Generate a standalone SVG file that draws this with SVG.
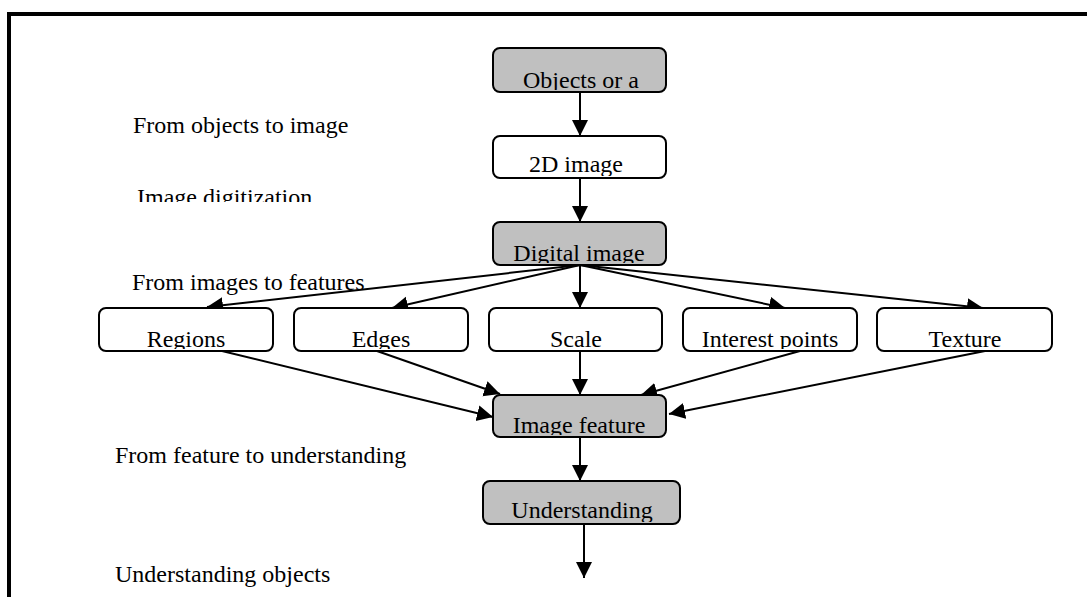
<svg xmlns="http://www.w3.org/2000/svg" width="1087" height="597" viewBox="0 0 1087 597">
  <style>
    .box { stroke: #000; stroke-width: 2; }
    .grey { fill: #c0c0c0; }
    .white { fill: #fff; }
    .lbl { font-family: "Liberation Serif", "Times New Roman", serif; font-size: 24px; fill: #000; }
    .mid { text-anchor: middle; }
    .edge { stroke: #000; stroke-width: 2; fill: none; marker-end: url(#head); }
  </style>
  <defs>
    <marker id="head" markerUnits="userSpaceOnUse" markerWidth="18" markerHeight="18" refX="16" refY="8" orient="auto">
      <path d="M0,0 L16,8 L0,16 z" fill="#000"/>
    </marker>
    <clipPath id="c-objects"><rect x="493" y="48" width="173" height="42"/></clipPath>
    <clipPath id="c-2d"><rect x="493" y="136" width="173" height="40"/></clipPath>
    <clipPath id="c-digital"><rect x="493" y="222" width="173" height="41"/></clipPath>
    <clipPath id="c-regions"><rect x="99" y="308" width="174" height="41"/></clipPath>
    <clipPath id="c-edges"><rect x="294" y="308" width="174" height="41"/></clipPath>
    <clipPath id="c-scale"><rect x="489" y="308" width="173" height="41"/></clipPath>
    <clipPath id="c-interest"><rect x="683" y="308" width="174" height="41"/></clipPath>
    <clipPath id="c-texture"><rect x="877" y="308" width="175" height="41"/></clipPath>
    <clipPath id="c-feature"><rect x="493" y="395" width="173" height="40"/></clipPath>
    <clipPath id="c-understanding"><rect x="483" y="481" width="197" height="41"/></clipPath>
    <clipPath id="c-digitization"><rect x="100" y="170" width="300" height="32"/></clipPath>
  </defs>

  <rect width="1087" height="597" fill="#fff"/>
  <!-- outer frame -->
  <rect x="9" y="14" width="1110" height="620" fill="none" stroke="#000" stroke-width="4"/>

  <!-- stage captions -->
  <g id="captions">
    <text class="lbl" x="133" y="133">From objects to image</text>
    <text class="lbl" x="137" y="205" clip-path="url(#c-digitization)">Image digitization</text>
    <text class="lbl" x="132" y="290">From images to features</text>
    <text class="lbl" x="115" y="463">From feature to understanding</text>
    <text class="lbl" x="115" y="582">Understanding objects</text>
  </g>

  <!-- connectors -->
  <g id="connectors">
    <line class="edge" x1="580" y1="92" x2="580" y2="136"/>
    <line class="edge" x1="580" y1="178" x2="580" y2="222"/>
    <line class="edge" x1="580" y1="265" x2="207" y2="307"/>
    <line class="edge" x1="580" y1="265" x2="392" y2="308"/>
    <line class="edge" x1="580" y1="265" x2="580" y2="308"/>
    <line class="edge" x1="580" y1="265" x2="785" y2="308"/>
    <line class="edge" x1="580" y1="265" x2="983" y2="308"/>
    <line class="edge" x1="222" y1="351" x2="493" y2="417"/>
    <line class="edge" x1="377" y1="351" x2="500" y2="394"/>
    <line class="edge" x1="580" y1="351" x2="580" y2="395"/>
    <line class="edge" x1="800" y1="351" x2="641" y2="395"/>
    <line class="edge" x1="985" y1="351" x2="669" y2="414"/>
    <line class="edge" x1="580" y1="437" x2="580" y2="481"/>
    <line class="edge" x1="584" y1="524" x2="584" y2="578"/>
  </g>

  <g id="objects">
    <rect class="box grey" x="493" y="48" width="173" height="44" rx="7"/>
    <text class="lbl mid" x="581" y="88" clip-path="url(#c-objects)">Objects or a</text>
  </g>
  <g id="image2d">
    <rect class="box white" x="493" y="136" width="173" height="42" rx="7"/>
    <text class="lbl mid" x="576" y="172" clip-path="url(#c-2d)">2D image</text>
  </g>
  <g id="digital">
    <rect class="box grey" x="493" y="222" width="173" height="43" rx="7"/>
    <text class="lbl mid" x="579" y="261" clip-path="url(#c-digital)">Digital image</text>
  </g>
  <g id="regions">
    <rect class="box white" x="99" y="308" width="174" height="43" rx="7"/>
    <text class="lbl mid" x="186" y="347" clip-path="url(#c-regions)">Regions</text>
  </g>
  <g id="edges">
    <rect class="box white" x="294" y="308" width="174" height="43" rx="7"/>
    <text class="lbl mid" x="381" y="347" clip-path="url(#c-edges)">Edges</text>
  </g>
  <g id="scale">
    <rect class="box white" x="489" y="308" width="173" height="43" rx="7"/>
    <text class="lbl mid" x="576" y="347" clip-path="url(#c-scale)">Scale</text>
  </g>
  <g id="interest">
    <rect class="box white" x="683" y="308" width="174" height="43" rx="7"/>
    <text class="lbl mid" x="770" y="347" clip-path="url(#c-interest)">Interest points</text>
  </g>
  <g id="texture">
    <rect class="box white" x="877" y="308" width="175" height="43" rx="7"/>
    <text class="lbl mid" x="965" y="347" clip-path="url(#c-texture)">Texture</text>
  </g>
  <g id="feature">
    <rect class="box grey" x="493" y="395" width="173" height="42" rx="7"/>
    <text class="lbl mid" x="579" y="433" clip-path="url(#c-feature)">Image feature</text>
  </g>
  <g id="understanding">
    <rect class="box grey" x="483" y="481" width="197" height="43" rx="7"/>
    <text class="lbl mid" x="582" y="518" clip-path="url(#c-understanding)">Understanding</text>
  </g>
</svg>
